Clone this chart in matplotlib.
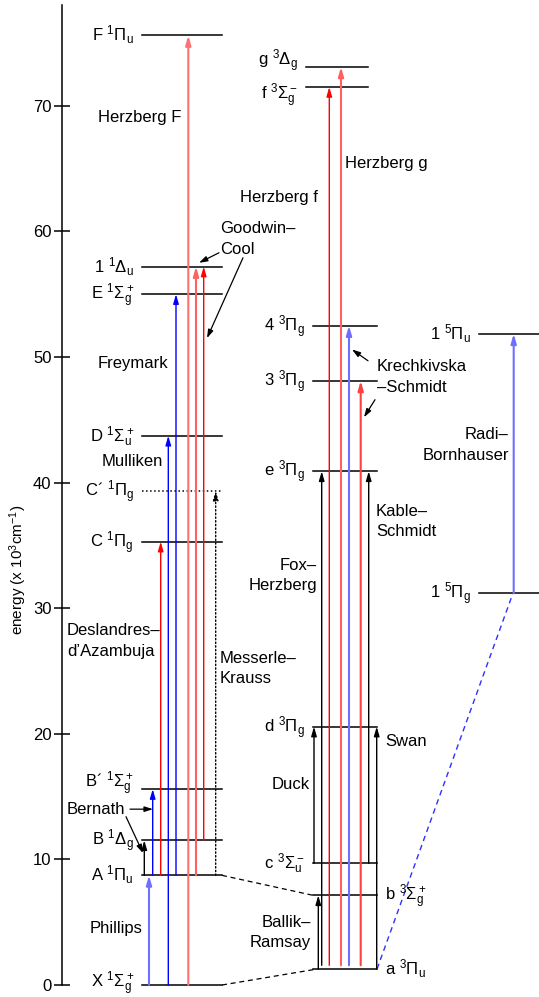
import matplotlib

matplotlib.use("Agg")
import matplotlib.pyplot as plt

plt.rcParams["font.family"] = ["Liberation Sans", "DejaVu Sans"]
plt.rcParams["mathtext.fontset"] = "custom"
plt.rcParams["mathtext.rm"] = "Liberation Sans"
plt.rcParams["mathtext.it"] = "Liberation Sans"
plt.rcParams["mathtext.sf"] = "Liberation Sans"

# term energies, 10^3 cm^-1
SINGLET_KEYS = ["X", "A", "B", "Bp", "C", "Cp", "D", "E", "1Du", "F"]
SINGLET_ENERGY = [0.0, 8.73, 11.52, 15.6, 35.3, 39.36, 43.73, 55.0, 57.2, 75.6]
SINGLET_LABELS = [
    r"X $^1\Sigma_g^+$", r"A $^1\Pi_u$", r"B $^1\Delta_g$", "B\u00b4 " + r"$^1\Sigma_g^+$",
    r"C $^1\Pi_g$", "C\u00b4 " + r"$^1\Pi_g$", r"D $^1\Sigma_u^+$", r"E $^1\Sigma_g^+$",
    r"1 $^1\Delta_u$", r"F $^1\Pi_u$",
]
TRIPLET_KEYS = ["a", "b", "c", "d", "e", "3Pg", "4Pg", "f", "g"]
TRIPLET_ENERGY = [1.27, 7.14, 9.69, 20.57, 40.9, 48.1, 52.5, 71.5, 73.1]
TRIPLET_LABELS = [
    r"a $^3\Pi_u$", r"b $^3\Sigma_g^+$", r"c $^3\Sigma_u^-$", r"d $^3\Pi_g$", r"e $^3\Pi_g$",
    r"3 $^3\Pi_g$", r"4 $^3\Pi_g$", r"f $^3\Sigma_g^-$", r"g $^3\Delta_g$",
]
QUINTET_KEYS = ["5Pg", "5Pu"]
QUINTET_ENERGY = [31.2, 51.85]
QUINTET_LABELS = [r"1 $^5\Pi_g$", r"1 $^5\Pi_u$"]

# transitions: (lower, upper, colour, dotted)
SINGLET_TRANS = [
    ("A", "B", "black", False), ("X", "A", "#6f6fff", False), ("A", "Bp", "blue", False),
    ("A", "C", "red", False), ("X", "D", "blue", False), ("A", "E", "blue", False),
    ("X", "F", "#ff7070", False), ("A", "1Du", "#ff6060", False), ("B", "1Du", "red", False),
    ("A", "Cp", "black", True),
]
TRIPLET_TRANS = [
    ("c", "d", "black", False), ("a", "b", "black", False), ("a", "e", "black", False),
    ("a", "f", "red", False), ("a", "g", "#ff6060", False), ("a", "4Pg", "#6f6fff", False),
    ("a", "3Pg", "#ff4040", False), ("c", "e", "black", False), ("a", "d", "black", False),
]
QUINTET_TRANS = [("5Pg", "5Pu", "#6f6fff", False)]

# layout (x in pixels of the 539 px wide picture)
SINGLET_X = [144.3, 149, 152.7, 160.7, 168.3, 176, 188.3, 196, 203.7, 215.7]
TRIPLET_X = [314, 318.3, 321.7, 329.3, 341, 349, 360.7, 368.7, 376.7]
QUINTET_X = [513.7]
LABEL_SHIFT = {"g": 0.55, "f": -0.55, "X": 0.25, "Bp": 0.55}
PX_PER_UNIT = 12.56
ZERO_PX = 985

fig = plt.figure(figsize=(5.39, 9.97), dpi=100)
ax = fig.add_axes([0, 0, 1, 1])
ax.set_xlim(0, 539)
ax.set_ylim(-12 / PX_PER_UNIT, ZERO_PX / PX_PER_UNIT)

for side in ("top", "right", "bottom"):
    ax.spines[side].set_visible(False)
ax.spines["left"].set_position(("data", 62))
ax.spines["left"].set_bounds(0, 78.0)
ax.spines["left"].set_linewidth(1.1)
ax.set_xticks([])
ax.set_yticks(range(0, 80, 10))
ax.tick_params(axis="y", direction="inout", length=11, width=1.1, labelsize=12, pad=2)
ax.set_ylabel(r"energy (x 10$^{3}$cm$^{-1}$)", fontsize=11, va="center")
ax.yaxis.set_label_coords(0.034, 0.429)
ax.patch.set_visible(False)

FS = 12


def draw_levels(keys, energies, labels, x0, x1, special=None):
    for key, e, lab in zip(keys, energies, labels):
        a, b = (special or {}).get(key, (x0, x1))
        ls = ":" if key == "Cp" else "-"
        ax.plot([a, b], [e, e], color="black", lw=1.1, linestyle=ls)
        y = e - 0.45 + LABEL_SHIFT.get(key, 0.0)
        if key in ("a", "b"):
            ax.text(b + 8, y, lab, ha="left", va="baseline", fontsize=FS)
        else:
            ax.text(a - 8, y, lab, ha="right", va="baseline", fontsize=FS)


def draw_transitions(trans, xs, energy, start_gap=0.0):
    for (lo, hi, col, dotted), x in zip(trans, xs):
        e0 = energy[lo]
        if start_gap and lo == "a" and 320 < x < 370:
            e0 += start_gap
        if col in ("red", "black", "blue"):
            lw = 1.0
        else:
            lw = 1.5
        ax.annotate(
            "", xy=(x, energy[hi]), xytext=(x, e0),
            arrowprops=dict(arrowstyle="-|>,head_length=0.55,head_width=0.16", color=col,
                            lw=lw, linestyle=":" if dotted else "-", shrinkA=0, shrinkB=0,
                            mutation_scale=10),
        )


draw_levels(SINGLET_KEYS, SINGLET_ENERGY, SINGLET_LABELS, 142, 222)
draw_levels(TRIPLET_KEYS, TRIPLET_ENERGY, TRIPLET_LABELS, 313, 377,
            special={"f": (306, 368), "g": (306, 368)})
draw_levels(QUINTET_KEYS, QUINTET_ENERGY, QUINTET_LABELS, 479, 545)

s_e = dict(zip(SINGLET_KEYS, SINGLET_ENERGY))
t_e = dict(zip(TRIPLET_KEYS, TRIPLET_ENERGY))
q_e = dict(zip(QUINTET_KEYS, QUINTET_ENERGY))
draw_transitions(SINGLET_TRANS, SINGLET_X, s_e)
draw_transitions(TRIPLET_TRANS, TRIPLET_X, t_e, start_gap=0.3)
draw_transitions(QUINTET_TRANS, QUINTET_X, q_e)

# dashed correlation lines between the columns
ax.plot([222, 313], [s_e["A"], t_e["b"]], color="black", lw=0.9, dashes=(4, 3))
ax.plot([222, 317], [s_e["X"], t_e["a"]], color="black", lw=0.9, dashes=(4, 3))
ax.plot([377, 513], [t_e["a"], q_e["5Pg"]], color="#3030ff", lw=1.0, dashes=(4, 3))

# band system names
NAMES = [
    ("Herzberg F", 98, 69.1, "left"),
    ("Goodwin\u2013\nCool", 220, 59.4, "left"),
    ("Freymark", 98, 49.5, "left"),
    ("Mulliken", 102, 41.7, "left"),
    ("Deslandres\u2013\nd\u2019Azambuja", 67, 27.4, "left"),
    ("Messerle\u2013\nKrauss", 220, 25.2, "left"),
    ("Bernath", 67, 14.0, "left"),
    ("Phillips", 90, 4.46, "left"),
    ("Ballik\u2013\nRamsay", 311, 4.2, "right"),
    ("Duck", 310, 16.0, "right"),
    ("Swan", 385, 19.4, "left"),
    ("Fox\u2013\nHerzberg", 317, 32.6, "right"),
    ("Kable\u2013\nSchmidt", 376, 36.9, "left"),
    ("Krechkivska\n\u2013Schmidt", 377, 48.4, "left"),
    ("Radi\u2013\nBornhauser", 509, 43.0, "right"),
    ("Herzberg f", 240, 62.7, "left"),
    ("Herzberg g", 345, 65.4, "left"),
]
for text, x, y, ha in NAMES:
    ax.text(x, y, text, ha=ha, va="center", fontsize=FS, linespacing=1.45,
            multialignment=ha)

# pointer arrows from the names to their transitions
POINTERS = [
    ((219, 58.3), (199, 57.5)),
    ((243, 57.9), (207, 51.5)),
    ((130, 14.0), (153, 14.0)),
    ((126, 13.4), (143, 10.5)),
    ((368, 49.7), (352, 50.6)),
    ((375, 46.6), (364, 45.2)),
]
for (x0, y0), (x1, y1) in POINTERS:
    ax.annotate("", xy=(x1, y1), xytext=(x0, y0),
                arrowprops=dict(arrowstyle="-|>,head_length=0.5,head_width=0.16", color="black",
                                lw=0.9, shrinkA=0, shrinkB=0, mutation_scale=10))

fig.savefig("out.png", dpi=100)
